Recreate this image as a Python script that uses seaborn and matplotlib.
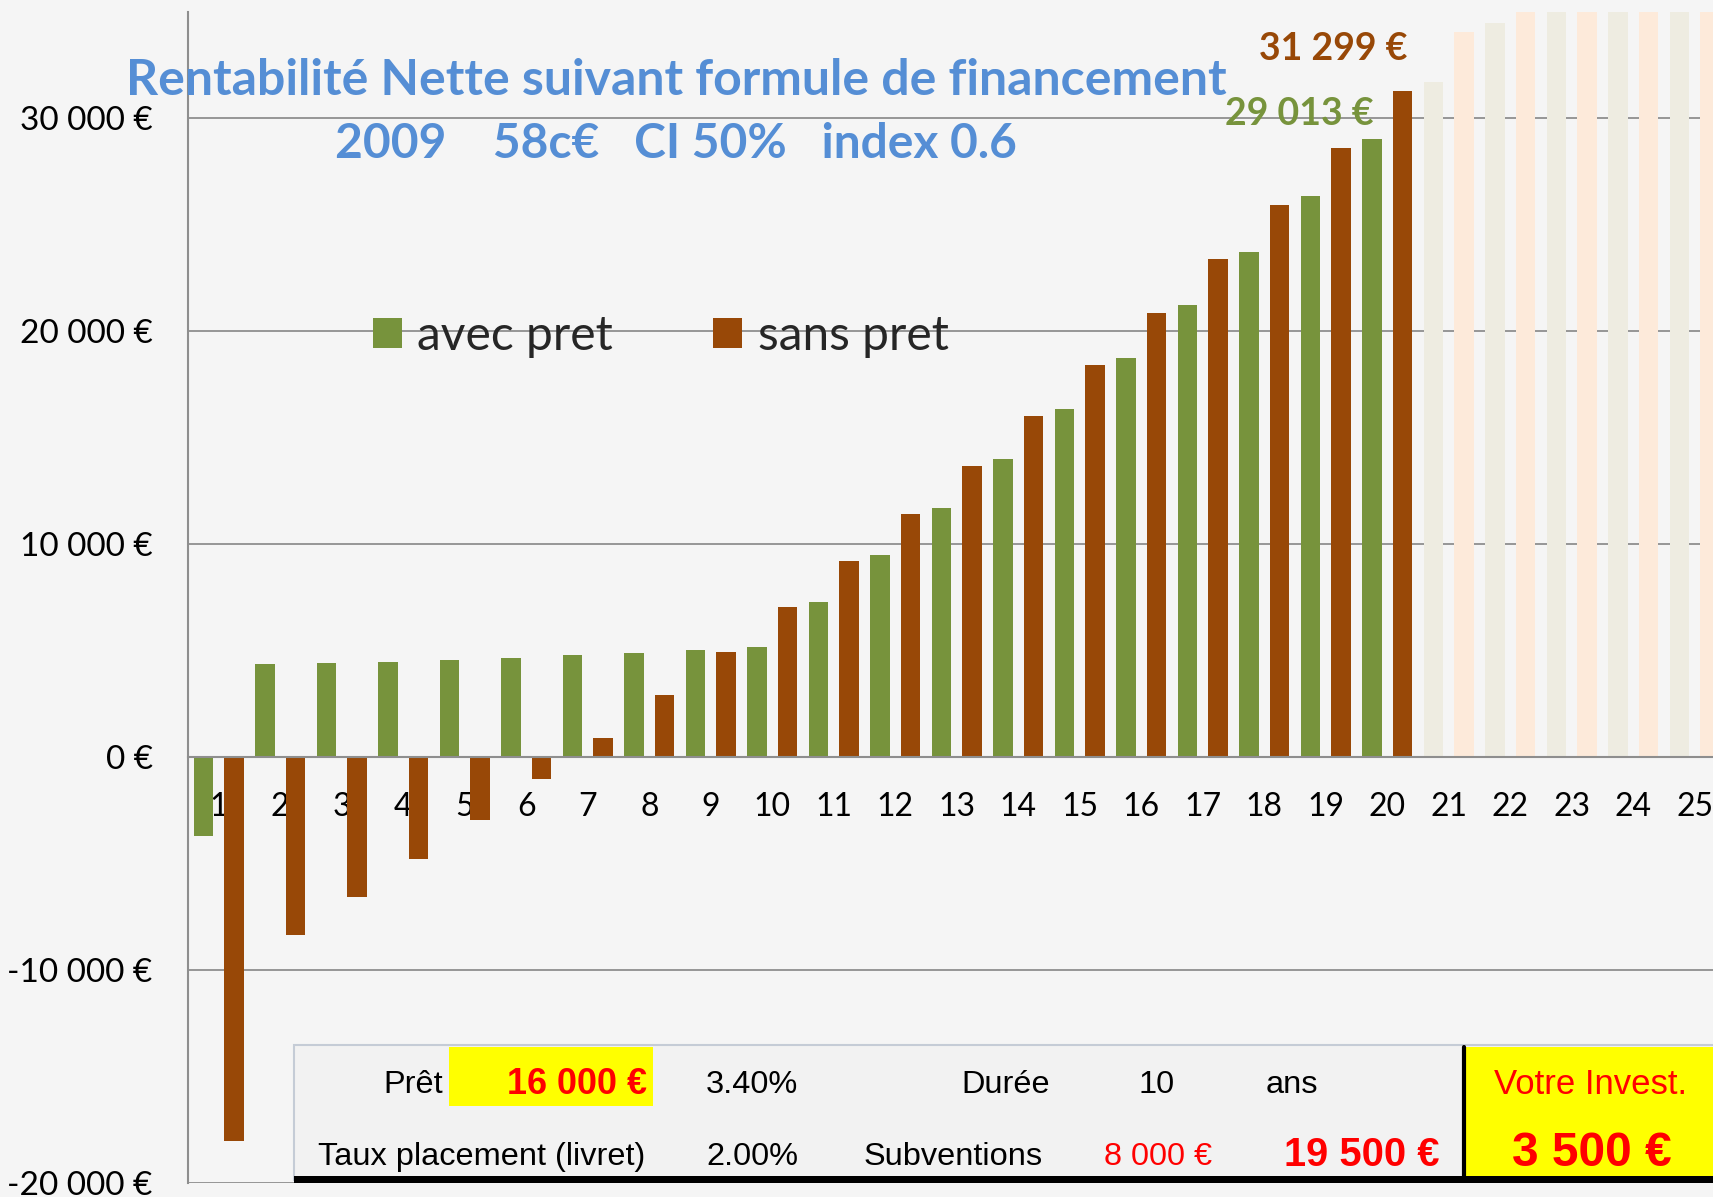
import numpy as np
import pandas as pd
import matplotlib
matplotlib.use("Agg")
import matplotlib.pyplot as plt
import seaborn as sns
from matplotlib.patches import Rectangle, Patch
from matplotlib.lines import Line2D
from matplotlib.ticker import FuncFormatter, FixedLocator
from matplotlib import font_manager as fm

# ---------------- data ----------------
years = list(range(1, 26))
series = ["avec pret", "sans pret"]
avec_pret = [-3700, 4370, 4420, 4480, 4570, 4680, 4780, 4880, 5040, 5180,
             7290, 9500, 11700, 13990, 16340, 18740, 21220, 23750, 26370, 29013,
             31720, 34500, 37300, 40200, 43100]
sans_pret = [-18030, -8340, -6550, -4760, -2930, -1030, 890, 2920, 4940, 7070,
             9230, 11430, 13690, 16040, 18400, 20860, 23380, 25950, 28610, 31299,
             34050, 36900, 39800, 42700, 45700]
projected_from = 21
y_ticks = [-20000, -10000, 0, 10000, 20000, 30000]
title_line1 = "Rentabilité Nette suivant formule de financement"
title_line2 = "2009    58c€   CI 50%   index 0.6"
label_avec = "29 013 €"
label_sans = "31 299 €"

# ---------------- style ----------------
GREEN, BROWN = "#77933C", "#984807"
GREEN_F, BROWN_F = "#EEECE1", "#FDEADA"
GRID = "#8E8E8E"
BG = "#F5F5F5"
TITLE_C = "#558ED5"
RED = "#FF0000"

sns.set_style("white")
plt.rcParams["font.family"] = ["Lato", "DejaVu Sans"]

names = {f.name for f in fm.fontManager.ttflist}
NARROW = "Liberation Sans Narrow" if "Liberation Sans Narrow" in names else "Liberation Sans"
NS = 1.0 if NARROW == "Liberation Sans Narrow" else 0.82

W, H, DPI = 1713, 1197, 100
fig = plt.figure(figsize=(W / DPI, H / DPI), dpi=DPI, facecolor=BG)
ax = fig.add_axes([188 / W, 1 - 1183 / H, 25 * 61.5 / W, (1183 - 12) / H])
ax.set_facecolor("none")

df = pd.DataFrame({
    "Année": years * 2,
    "Série": [series[0]] * len(years) + [series[1]] * len(years),
    "Valeur": avec_pret + sans_pret,
})
df["Projeté"] = df["Année"] >= projected_from

common = dict(x="Année", y="Valeur", hue="Série", order=years, hue_order=series,
              width=0.98, gap=0.35, errorbar=None, saturation=1, legend=False,
              ax=ax, zorder=2, edgecolor="none", linewidth=0)
sns.barplot(data=df[~df["Projeté"]], palette=[GREEN, BROWN], **common)
sns.barplot(data=df[df["Projeté"]], palette=[GREEN_F, BROWN_F], **common)

ax.set_xlim(-0.5, len(years) - 0.5)
ax.set_ylim(-20000, 35000)
ax.set_xlabel("")
ax.set_ylabel("")

for s in ["top", "right"]:
    ax.spines[s].set_visible(False)
ax.spines["left"].set_color(GRID)
ax.spines["left"].set_linewidth(1.5)
ax.spines["bottom"].set_position(("data", 0))
ax.spines["bottom"].set_color(GRID)
ax.spines["bottom"].set_linewidth(1.5)

ax.set_xticks(range(len(years)))
ax.set_xticklabels([str(y) for y in years])
ax.xaxis.set_minor_locator(FixedLocator(np.arange(-0.5, len(years), 1)))
ax.tick_params(axis="x", which="major", length=0, pad=25, labelsize=23, labelcolor="black")
ax.tick_params(axis="x", which="minor", length=7.5, width=1.2, color=GRID, direction="out")

ax.yaxis.set_major_locator(FixedLocator(y_ticks))
ax.yaxis.set_major_formatter(FuncFormatter(lambda v, p: f"{int(v):,}".replace(",", " ") + " €"))
ax.tick_params(axis="y", length=9.4, width=1.2, color=GRID, pad=16, labelsize=24, labelcolor="black")

ax.grid(axis="y", color=GRID, lw=1.3)
ax.grid(axis="x", visible=False)
ax.set_axisbelow(True)

# data labels for final actual year
i_last = years.index(projected_from - 1)
ax.annotate(label_sans, xy=(i_last + 0.245, sans_pret[i_last]), xytext=(-69, 42),
            textcoords="offset pixels", ha="center", va="center",
            fontsize=27, fontweight="bold", color=BROWN, zorder=5)
ax.annotate(label_avec, xy=(i_last - 0.245, avec_pret[i_last]), xytext=(-73, 25),
            textcoords="offset pixels", ha="center", va="center",
            fontsize=27, fontweight="bold", color=GREEN, zorder=5)

# title
fig.text(676 / W, 1 - 95 / H, title_line1, ha="center", va="baseline",
         fontsize=36, fontweight="bold", color=TITLE_C)
fig.text(676 / W, 1 - 158 / H, title_line2, ha="center", va="baseline",
         fontsize=34.5, fontweight="bold", color=TITLE_C)

# legend
handles = [Patch(facecolor=GREEN, edgecolor="none"), Patch(facecolor=BROWN, edgecolor="none")]
fig.legend(handles, series, loc="center left", bbox_to_anchor=(373 / W, 1 - 336 / H),
           ncol=2, frameon=False, fontsize=34.5, handlelength=0.6, handleheight=0.6,
           handletextpad=0.32, columnspacing=2.1, borderpad=0, borderaxespad=0)

# ---------------- parameter table ----------------
def fx(x):
    return x / W

def fy(y):
    return 1 - y / H

def rect(x0, y0, x1, y1, **kw):
    fig.add_artist(Rectangle((fx(x0), fy(y1)), fx(x1) - fx(x0), fy(y0) - fy(y1),
                             transform=fig.transFigure, **kw))

rect(294, 1045, 1730, 1180, facecolor="#F2F2F2", edgecolor="#C5CCD6", lw=1.5, zorder=10)
rect(449, 1047, 653, 1106, facecolor="#FFFF00", edgecolor="none", zorder=11)
rect(1466, 1047, 1730, 1178, facecolor="#FFFF00", edgecolor="none", zorder=11)
rect(294, 1176, 1730, 1183, facecolor="black", edgecolor="none", zorder=12)
fig.add_artist(Line2D([fx(1464), fx(1464)], [fy(1047), fy(1178)], color="black", lw=3,
                      transform=fig.transFigure, zorder=12))

def t(x, y, s, size, color="black", ha="center", weight="normal"):
    fig.text(fx(x), fy(y), s, ha=ha, va="baseline", fontsize=size * NS, color=color,
             fontweight=weight, family=NARROW, zorder=13)

r1, r2 = 1093, 1165
t(443, r1, "Prêt", 28.5, ha="right")
t(647, r1 + 1, "16 000 €", 31.5, color=RED, ha="right", weight="bold")
t(752, r1, "3.40%", 28.5)
t(1006, r1, "Durée", 28.5)
t(1157, r1, "10", 28.5)
t(1292, r1, "ans", 28.5)
t(1590, r1 + 1, "Votre Invest.", 30.5, color=RED)
t(482, r2, "Taux placement (livret)", 28.5)
t(752, r2, "2.00%", 28.5)
t(953, r2, "Subventions", 28.5)
t(1158, r2, "8 000 €", 28.5, color=RED)
t(1440, r2 + 1, "19 500 €", 35, color=RED, ha="right", weight="bold")
t(1592, r2 + 1, "3 500 €", 42, color=RED, weight="bold")

fig.savefig("out.png", dpi=DPI, facecolor=BG)
